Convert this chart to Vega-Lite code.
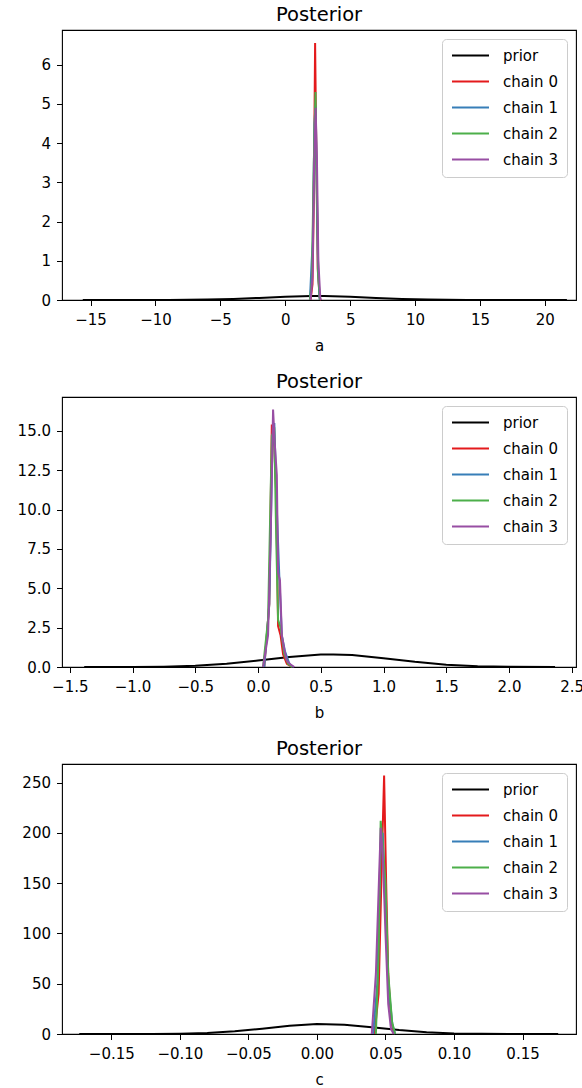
{
  "$schema": "https://vega.github.io/schema/vega-lite/v6.json",
  "padding": {"left": 16, "top": 3, "right": 5, "bottom": 0},
  "spacing": 15,
  "datasets": {
    "a": [
      {"series": "prior", "x": -15.6, "y": 0.0002},
      {"series": "prior", "x": -12, "y": 0.0005},
      {"series": "prior", "x": -9, "y": 0.0018},
      {"series": "prior", "x": -6, "y": 0.011},
      {"series": "prior", "x": -4, "y": 0.028},
      {"series": "prior", "x": -2, "y": 0.054},
      {"series": "prior", "x": 0, "y": 0.083},
      {"series": "prior", "x": 2, "y": 0.099},
      {"series": "prior", "x": 3, "y": 0.099},
      {"series": "prior", "x": 5, "y": 0.083},
      {"series": "prior", "x": 7, "y": 0.054},
      {"series": "prior", "x": 9, "y": 0.028},
      {"series": "prior", "x": 11, "y": 0.011},
      {"series": "prior", "x": 14, "y": 0.0015},
      {"series": "prior", "x": 17, "y": 0.0003},
      {"series": "prior", "x": 21.7, "y": 0.0001},
      {"series": "chain 0", "x": 1.95, "y": 0},
      {"series": "chain 0", "x": 2.1, "y": 0.4},
      {"series": "chain 0", "x": 2.2, "y": 2.5},
      {"series": "chain 0", "x": 2.3, "y": 6.55},
      {"series": "chain 0", "x": 2.4, "y": 3.5},
      {"series": "chain 0", "x": 2.5, "y": 0.8},
      {"series": "chain 0", "x": 2.65, "y": 0.05},
      {"series": "chain 0", "x": 2.75, "y": 0},
      {"series": "chain 1", "x": 1.9, "y": 0},
      {"series": "chain 1", "x": 2.03, "y": 0.95},
      {"series": "chain 1", "x": 2.12, "y": 1.5},
      {"series": "chain 1", "x": 2.25, "y": 4.5},
      {"series": "chain 1", "x": 2.33, "y": 4.95},
      {"series": "chain 1", "x": 2.42, "y": 3},
      {"series": "chain 1", "x": 2.52, "y": 0.8},
      {"series": "chain 1", "x": 2.65, "y": 0},
      {"series": "chain 2", "x": 1.9, "y": 0},
      {"series": "chain 2", "x": 2.05, "y": 0.5},
      {"series": "chain 2", "x": 2.2, "y": 3.5},
      {"series": "chain 2", "x": 2.33, "y": 5.3},
      {"series": "chain 2", "x": 2.42, "y": 3.2},
      {"series": "chain 2", "x": 2.55, "y": 0.6},
      {"series": "chain 2", "x": 2.68, "y": 0},
      {"series": "chain 3", "x": 1.95, "y": 0},
      {"series": "chain 3", "x": 2.1, "y": 0.6},
      {"series": "chain 3", "x": 2.22, "y": 3.4},
      {"series": "chain 3", "x": 2.34, "y": 4.9},
      {"series": "chain 3", "x": 2.44, "y": 3.6},
      {"series": "chain 3", "x": 2.55, "y": 1},
      {"series": "chain 3", "x": 2.7, "y": 0.05},
      {"series": "chain 3", "x": 2.75, "y": 0}
    ],
    "b": [
      {"series": "prior", "x": -1.385, "y": 0.0004},
      {"series": "prior", "x": -1.0, "y": 0.005},
      {"series": "prior", "x": -0.75, "y": 0.023},
      {"series": "prior", "x": -0.5, "y": 0.078},
      {"series": "prior", "x": -0.25, "y": 0.2},
      {"series": "prior", "x": 0.0, "y": 0.41},
      {"series": "prior", "x": 0.25, "y": 0.64},
      {"series": "prior", "x": 0.5, "y": 0.79},
      {"series": "prior", "x": 0.6, "y": 0.8},
      {"series": "prior", "x": 0.75, "y": 0.755},
      {"series": "prior", "x": 1.0, "y": 0.56},
      {"series": "prior", "x": 1.25, "y": 0.33},
      {"series": "prior", "x": 1.5, "y": 0.15},
      {"series": "prior", "x": 1.75, "y": 0.052},
      {"series": "prior", "x": 2.0, "y": 0.014},
      {"series": "prior", "x": 2.367, "y": 0.0005},
      {"series": "chain 0", "x": 0.05, "y": 0},
      {"series": "chain 0", "x": 0.09, "y": 4},
      {"series": "chain 0", "x": 0.11, "y": 15.4},
      {"series": "chain 0", "x": 0.13, "y": 14},
      {"series": "chain 0", "x": 0.145, "y": 11},
      {"series": "chain 0", "x": 0.16, "y": 2.6},
      {"series": "chain 0", "x": 0.18, "y": 2},
      {"series": "chain 0", "x": 0.2, "y": 0.8},
      {"series": "chain 0", "x": 0.23, "y": 0.2},
      {"series": "chain 0", "x": 0.27, "y": 0},
      {"series": "chain 1", "x": 0.05, "y": 0},
      {"series": "chain 1", "x": 0.09, "y": 4},
      {"series": "chain 1", "x": 0.115, "y": 14},
      {"series": "chain 1", "x": 0.13, "y": 15.5},
      {"series": "chain 1", "x": 0.15, "y": 10},
      {"series": "chain 1", "x": 0.17, "y": 5.7},
      {"series": "chain 1", "x": 0.19, "y": 2},
      {"series": "chain 1", "x": 0.215, "y": 1},
      {"series": "chain 1", "x": 0.25, "y": 0.2},
      {"series": "chain 1", "x": 0.28, "y": 0},
      {"series": "chain 2", "x": 0.04, "y": 0},
      {"series": "chain 2", "x": 0.08, "y": 3},
      {"series": "chain 2", "x": 0.11, "y": 14.7},
      {"series": "chain 2", "x": 0.13, "y": 15},
      {"series": "chain 2", "x": 0.145, "y": 8.2},
      {"series": "chain 2", "x": 0.16, "y": 3},
      {"series": "chain 2", "x": 0.18, "y": 2.5},
      {"series": "chain 2", "x": 0.21, "y": 0.8},
      {"series": "chain 2", "x": 0.24, "y": 0.2},
      {"series": "chain 2", "x": 0.27, "y": 0},
      {"series": "chain 3", "x": 0.04, "y": 0},
      {"series": "chain 3", "x": 0.08, "y": 2},
      {"series": "chain 3", "x": 0.1, "y": 8},
      {"series": "chain 3", "x": 0.12, "y": 16.35},
      {"series": "chain 3", "x": 0.135, "y": 14},
      {"series": "chain 3", "x": 0.15, "y": 12.2},
      {"series": "chain 3", "x": 0.16, "y": 6},
      {"series": "chain 3", "x": 0.175, "y": 5.5},
      {"series": "chain 3", "x": 0.19, "y": 2},
      {"series": "chain 3", "x": 0.21, "y": 1.1},
      {"series": "chain 3", "x": 0.23, "y": 0.4},
      {"series": "chain 3", "x": 0.26, "y": 0.15},
      {"series": "chain 3", "x": 0.29, "y": 0}
    ],
    "c": [
      {"series": "prior", "x": -0.1734, "y": 0.002},
      {"series": "prior", "x": -0.14, "y": 0.015},
      {"series": "prior", "x": -0.12, "y": 0.076},
      {"series": "prior", "x": -0.1, "y": 0.32},
      {"series": "prior", "x": -0.08, "y": 1.05},
      {"series": "prior", "x": -0.06, "y": 2.67},
      {"series": "prior", "x": -0.04, "y": 5.3},
      {"series": "prior", "x": -0.02, "y": 8.2},
      {"series": "prior", "x": 0.0, "y": 9.9},
      {"series": "prior", "x": 0.02, "y": 9.3},
      {"series": "prior", "x": 0.04, "y": 6.8},
      {"series": "prior", "x": 0.06, "y": 3.9},
      {"series": "prior", "x": 0.08, "y": 1.7},
      {"series": "prior", "x": 0.1, "y": 0.6},
      {"series": "prior", "x": 0.12, "y": 0.16},
      {"series": "prior", "x": 0.14, "y": 0.03},
      {"series": "prior", "x": 0.176, "y": 0.002},
      {"series": "chain 0", "x": 0.042, "y": 0},
      {"series": "chain 0", "x": 0.045, "y": 40},
      {"series": "chain 0", "x": 0.0475, "y": 180},
      {"series": "chain 0", "x": 0.049, "y": 257},
      {"series": "chain 0", "x": 0.0505, "y": 150},
      {"series": "chain 0", "x": 0.052, "y": 60},
      {"series": "chain 0", "x": 0.054, "y": 15},
      {"series": "chain 0", "x": 0.056, "y": 0},
      {"series": "chain 1", "x": 0.041, "y": 0},
      {"series": "chain 1", "x": 0.044, "y": 50},
      {"series": "chain 1", "x": 0.0465, "y": 190},
      {"series": "chain 1", "x": 0.048, "y": 200},
      {"series": "chain 1", "x": 0.05, "y": 120},
      {"series": "chain 1", "x": 0.052, "y": 50},
      {"series": "chain 1", "x": 0.053, "y": 37},
      {"series": "chain 1", "x": 0.055, "y": 10},
      {"series": "chain 1", "x": 0.057, "y": 0},
      {"series": "chain 2", "x": 0.043, "y": 0},
      {"series": "chain 2", "x": 0.045, "y": 80},
      {"series": "chain 2", "x": 0.0465, "y": 212},
      {"series": "chain 2", "x": 0.048, "y": 190},
      {"series": "chain 2", "x": 0.05, "y": 150},
      {"series": "chain 2", "x": 0.052, "y": 60},
      {"series": "chain 2", "x": 0.0548, "y": 12},
      {"series": "chain 2", "x": 0.057, "y": 0},
      {"series": "chain 3", "x": 0.04, "y": 0},
      {"series": "chain 3", "x": 0.043, "y": 60},
      {"series": "chain 3", "x": 0.0465, "y": 205},
      {"series": "chain 3", "x": 0.048, "y": 180},
      {"series": "chain 3", "x": 0.05, "y": 100},
      {"series": "chain 3", "x": 0.052, "y": 30},
      {"series": "chain 3", "x": 0.054, "y": 5},
      {"series": "chain 3", "x": 0.056, "y": 0}
    ]
  },
  "vconcat": [
    {
      "width": 514,
      "height": 270,
      "title": "Posterior",
      "data": {"name": "a"},
      "mark": {"type": "line", "strokeWidth": 2},
      "encoding": {
        "x": {"field": "x", "type": "quantitative", "scale": {"domain": [-17.2, 22.4], "nice": false, "zero": false}, "axis": {"values": [-15, -10, -5, 0, 5, 10, 15, 20], "format": "d", "title": "a"}},
        "y": {"field": "y", "type": "quantitative", "scale": {"domain": [0, 6.88], "nice": false}, "axis": {"values": [0, 1, 2, 3, 4, 5, 6], "format": "d", "title": null}},
        "color": {"field": "series", "type": "nominal", "scale": {"domain": ["prior", "chain 0", "chain 1", "chain 2", "chain 3"], "range": ["#000000", "#e41a1c", "#377eb8", "#4daf4a", "#984ea3"]}, "legend": {"title": null}}
      }
    },
    {
      "width": 514,
      "height": 270,
      "title": "Posterior",
      "data": {"name": "b"},
      "mark": {"type": "line", "strokeWidth": 2},
      "encoding": {
        "x": {"field": "x", "type": "quantitative", "scale": {"domain": [-1.562, 2.534], "nice": false, "zero": false}, "axis": {"values": [-1.5, -1.0, -0.5, 0.0, 0.5, 1.0, 1.5, 2.0, 2.5], "format": ".1f", "title": "b"}},
        "y": {"field": "y", "type": "quantitative", "scale": {"domain": [0, 17.15], "nice": false}, "axis": {"values": [0, 2.5, 5, 7.5, 10, 12.5, 15], "format": ".1f", "title": null}},
        "color": {"field": "series", "type": "nominal", "scale": {"domain": ["prior", "chain 0", "chain 1", "chain 2", "chain 3"], "range": ["#000000", "#e41a1c", "#377eb8", "#4daf4a", "#984ea3"]}, "legend": {"title": null}}
      }
    },
    {
      "width": 514,
      "height": 270,
      "title": "Posterior",
      "data": {"name": "c"},
      "mark": {"type": "line", "strokeWidth": 2},
      "encoding": {
        "x": {"field": "x", "type": "quantitative", "scale": {"domain": [-0.186, 0.189], "nice": false, "zero": false}, "axis": {"values": [-0.15, -0.1, -0.05, 0.0, 0.05, 0.1, 0.15], "format": ".2f", "title": "c"}},
        "y": {"field": "y", "type": "quantitative", "scale": {"domain": [0, 268.5], "nice": false}, "axis": {"values": [0, 50, 100, 150, 200, 250], "format": "d", "title": null}},
        "color": {"field": "series", "type": "nominal", "scale": {"domain": ["prior", "chain 0", "chain 1", "chain 2", "chain 3"], "range": ["#000000", "#e41a1c", "#377eb8", "#4daf4a", "#984ea3"]}, "legend": {"title": null}}
      }
    }
  ],
  "resolve": {
    "scale": {"x": "independent", "y": "independent", "color": "independent"},
    "legend": {"color": "independent"}
  },
  "config": {
    "font": "DejaVu Sans",
    "view": {"stroke": "#000000", "strokeWidth": 1.1},
    "title": {"font": "DejaVu Sans", "fontSize": 19.5, "fontWeight": "normal", "color": "#000000", "offset": 5},
    "axis": {
      "domain": false,
      "grid": false,
      "labelFont": "DejaVu Sans",
      "labelFontSize": 15,
      "labelColor": "#000000",
      "tickColor": "#000000",
      "tickSize": 5.5,
      "tickWidth": 1,
      "labelPadding": 6,
      "titleFont": "DejaVu Sans",
      "titleFontSize": 15,
      "titleFontWeight": "normal",
      "titleColor": "#000000",
      "labelOverlap": false,
      "labelFlush": false
    },
    "axisX": {"labelPadding": 7, "titlePadding": 11},
    "axisY": {"minExtent": 45, "maxExtent": 45},
    "legend": {
      "orient": "top-right",
      "offset": 9,
      "symbolType": "stroke",
      "symbolSize": 1369,
      "symbolStrokeWidth": 2,
      "clipHeight": 15,
      "labelFont": "DejaVu Sans",
      "labelFontSize": 15,
      "labelColor": "#000000",
      "labelOffset": 13,
      "rowPadding": 10,
      "padding": 9,
      "strokeColor": "#cccccc",
      "cornerRadius": 4,
      "fillColor": "#ffffff"
    }
  }
}
